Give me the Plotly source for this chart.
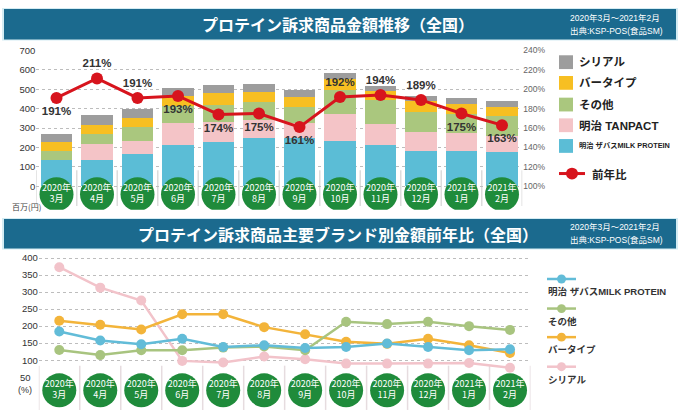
import plotly.graph_objects as go

# ---------------- data ----------------
months = ["2020年3月", "2020年4月", "2020年5月", "2020年6月", "2020年7月", "2020年8月",
          "2020年9月", "2020年10月", "2020年11月", "2020年12月", "2021年1月", "2021年2月"]

# top chart: sales (百万円), stacked
names_top = ["明治 ザバスMILK PROTEIN", "明治 TANPACT", "その他", "バータイプ", "シリアル"]
zavas = [134, 137, 167, 215, 227, 249, 247, 232, 213, 181, 181, 179]
tanpact = [3, 81, 68, 113, 104, 91, 81, 138, 110, 100, 93, 81]
sonota = [47, 54, 71, 84, 90, 93, 81, 127, 123, 101, 100, 102]
bartype = [46, 43, 48, 51, 59, 51, 49, 54, 46, 56, 52, 47]
cereal = [39, 50, 45, 43, 43, 44, 39, 34, 27, 29, 29, 29]
yoy_name = "前年比"
yoy = [191, 211, 191, 193, 174, 175, 161, 192, 194, 189, 175, 163]

# bottom chart: YoY by brand (%)
names_bot = ["明治 ザバスMILK PROTEIN", "その他", "バータイプ", "シリアル"]
b_zavas = [184, 158, 147, 163, 139, 144, 136, 139, 149, 139, 129, 132]
b_sonota = [130, 115, 129, 129, 137, 140, 129, 213, 206, 213, 200, 189]
b_bartype = [216, 204, 190, 235, 235, 197, 176, 154, 148, 163, 144, 121]
b_cereal = [373, 313, 275, 98, 93, 111, 103, 90, 90, 90, 92, 78]

left_ticks = [0, 100, 200, 300, 400, 500, 600, 700]
right_ticks = [100, 120, 140, 160, 180, 200, 220, 240]
bot_ticks = [100, 150, 200, 250, 300, 350, 400]

title_top = "プロテイン訴求商品金額推移（全国）"
title_bot = "プロテイン訴求商品主要ブランド別金額前年比（全国）"
period = "2020年3月～2021年2月"
source = "出典:KSP-POS(食品SM)"

# ---------------- styling ----------------
W, H = 680, 415
JP = "Noto Sans CJK JP"
LAT = "Liberation Sans, Noto Sans CJK JP"
C_BLUE = "#5bbdd6"
C_PINK = "#f4c4c7"
C_GREEN = "#aac77e"
C_YEL = "#f7bf22"
C_GRAY = "#9d9d9d"
C_RED = "#d7141d"
C_CIRC = "#1f8b3b"
C_HEAD = "#1b6a8e"
L_BLUE = "#62bcd8"
L_GREEN = "#a8c47f"
L_ORANGE = "#f3b43a"
L_PINK = "#f2c3ca"


def px(x):
    return x / W


def py(y):
    return 1 - y / H


circle_text = [m.replace("年", "年<br>") for m in months]

fig = go.Figure()

# top stacked bars
for name, vals, col in zip(names_top, [zavas, tanpact, sonota, bartype, cereal],
                           [C_BLUE, C_PINK, C_GREEN, C_YEL, C_GRAY]):
    fig.add_trace(go.Bar(x=months, y=vals, name=name, marker=dict(color=col, line=dict(width=0)),
                         width=0.78, xaxis="x", yaxis="y", showlegend=False))

# top month circles
fig.add_trace(go.Scatter(x=months, y=[-41] * len(months), mode="markers+text",
                         marker=dict(size=34, color=C_CIRC),
                         text=circle_text, textposition="middle center",
                         textfont=dict(color="white", size=9, family=JP),
                         xaxis="x", yaxis="y", showlegend=False, hoverinfo="skip"))

# YoY line
lab_pos = ["bottom center", "top center", "top center", "bottom center", "bottom center",
           "bottom center", "bottom center", "top center", "top center", "top center",
           "bottom center", "bottom center"]
fig.add_trace(go.Scatter(x=months, y=yoy, name=yoy_name, mode="lines+markers+text",
                         line=dict(color=C_RED, width=3),
                         marker=dict(size=12, color=C_RED),
                         text=["<b>%d%%</b>" % v for v in yoy], textposition=lab_pos,
                         textfont=dict(color="#333333", size=11.5, family=LAT),
                         xaxis="x", yaxis="y2", showlegend=False, cliponaxis=False))

# bottom lines
for name, vals, col in zip(names_bot[::-1], [b_cereal, b_bartype, b_sonota, b_zavas],
                           [L_PINK, L_ORANGE, L_GREEN, L_BLUE]):
    fig.add_trace(go.Scatter(x=months, y=vals, name=name, mode="lines+markers",
                             line=dict(color=col, width=2.5), marker=dict(size=10, color=col),
                             xaxis="x2", yaxis="y3", showlegend=False, cliponaxis=False))

fig.add_trace(go.Scatter(x=months, y=[11.5] * len(months), mode="markers+text",
                         marker=dict(size=34, color=C_CIRC),
                         text=circle_text, textposition="middle center",
                         textfont=dict(color="white", size=9, family=JP),
                         xaxis="x2", yaxis="y3", showlegend=False, hoverinfo="skip"))

shapes = []
annotations = []

# header bars
for y0, y1, t, ty in [(3, 34, title_top, 18.5), (216, 246, title_bot, 231)]:
    shapes.append(dict(type="rect", xref="paper", yref="paper", x0=px(2), x1=px(678),
                       y0=py(y1 + 1), y1=py(y0 - 1), line=dict(width=0), fillcolor="#d4ecf3", layer="below"))
    shapes.append(dict(type="rect", xref="paper", yref="paper", x0=px(4), x1=px(676),
                       y0=py(y1), y1=py(y0), line=dict(width=0), fillcolor=C_HEAD, layer="below"))
    annotations.append(dict(xref="paper", yref="paper", x=px(338), y=py(ty), text="<b>" + t + "</b>",
                            showarrow=False, font=dict(color="white", size=16, family=JP),
                            xanchor="center", yanchor="middle"))
    annotations.append(dict(xref="paper", yref="paper", x=px(568), y=py(ty - 6.5), text=period,
                            showarrow=False, font=dict(color="white", size=8.5, family=LAT),
                            xanchor="left", yanchor="middle"))
    annotations.append(dict(xref="paper", yref="paper", x=px(568), y=py(ty + 6.5), text=source,
                            showarrow=False, font=dict(color="white", size=8.5, family=LAT),
                            xanchor="left", yanchor="middle"))

# category separators
for i in range(len(months) + 1):
    shapes.append(dict(type="line", xref="x", yref="y", x0=i - 0.5, x1=i - 0.5, y0=83, y1=-101,
                       line=dict(color="#dcdcdc", width=1.5), layer="below"))
    shapes.append(dict(type="line", xref="x2", yref="y3", x0=i - 0.5, x1=i - 0.5, y0=84, y1=-46,
                       line=dict(color="#e6dcdf", width=1.5), layer="below"))

# unit labels
annotations.append(dict(xref="paper", yref="paper", x=px(10), y=py(203), text="百万(円)", showarrow=False,
                        font=dict(size=8, color="#444", family=JP), xanchor="left", yanchor="middle"))
annotations.append(dict(xref="paper", yref="paper", x=px(33), y=py(376.7), text="50", showarrow=False,
                        font=dict(size=9.5, color="#333", family=LAT), xanchor="right", yanchor="middle"))
annotations.append(dict(xref="paper", yref="paper", x=px(34), y=py(390), text="(%)", showarrow=False,
                        font=dict(size=9, color="#333", family=LAT), xanchor="right", yanchor="middle"))

# top legend (manual)
leg_top = [(names_top[4], C_GRAY, 57, 11.5), (names_top[3], C_YEL, 78, 11.5), (names_top[2], C_GREEN, 100, 11.5),
           (names_top[1], C_PINK, 121, 11.5), (names_top[0], C_BLUE, 142, 7.3)]
for name, col, yc, fs in leg_top:
    shapes.append(dict(type="rect", xref="paper", yref="paper", x0=px(559), x1=px(573),
                       y0=py(yc + 7), y1=py(yc - 7), fillcolor=col, line=dict(width=0)))
    annotations.append(dict(xref="paper", yref="paper", x=px(577), y=py(yc), text="<b>" + name + "</b>",
                            showarrow=False, font=dict(size=fs, color="#222", family=LAT),
                            xanchor="left", yanchor="middle"))
shapes.append(dict(type="line", xref="paper", yref="paper", x0=px(559), x1=px(585), y0=py(170), y1=py(170),
                   line=dict(color=C_RED, width=3)))
shapes.append(dict(type="circle", xref="paper", yref="paper", x0=px(566), x1=px(578), y0=py(176), y1=py(164),
                   fillcolor=C_RED, line=dict(width=0)))
annotations.append(dict(xref="paper", yref="paper", x=px(590), y=py(170), text="<b>" + yoy_name + "</b>",
                        showarrow=False, font=dict(size=11.5, color="#222", family=JP),
                        xanchor="left", yanchor="middle"))

# bottom legend (manual)
leg_bot = [(names_bot[0], L_BLUE, 277), (names_bot[1], L_GREEN, 307),
           (names_bot[2], L_ORANGE, 336), (names_bot[3], L_PINK, 366)]
for name, col, yl in leg_bot:
    shapes.append(dict(type="line", xref="paper", yref="paper", x0=px(547), x1=px(576), y0=py(yl), y1=py(yl),
                       line=dict(color=col, width=2.5)))
    shapes.append(dict(type="circle", xref="paper", yref="paper", x0=px(557), x1=px(566),
                       y0=py(yl + 4.5), y1=py(yl - 4.5), fillcolor=col, line=dict(width=0)))
    annotations.append(dict(xref="paper", yref="paper", x=px(546), y=py(yl + 13), text="<b>" + name + "</b>",
                            showarrow=False, font=dict(size=9.5, color="#333", family=LAT),
                            xanchor="left", yanchor="middle"))

fig.update_layout(
    width=W, height=H, margin=dict(l=0, r=0, t=0, b=0),
    paper_bgcolor="white", plot_bgcolor="white",
    barmode="stack", bargap=0.22,
    font=dict(family=JP, color="#333"),
    showlegend=False,
    xaxis=dict(domain=[px(36.25), px(522.25)], range=[-0.5, 11.5], showticklabels=False,
               showgrid=False, zeroline=False, showline=False, ticks="", anchor="y"),
    yaxis=dict(domain=[py(206.66), py(45)], range=[-120, 700], tickvals=left_ticks,
               showgrid=True, gridcolor="#bdbdbd", griddash="dot", gridwidth=1, zeroline=False,
               tickfont=dict(size=9.5, color="#333", family=LAT), ticks="", anchor="x"),
    yaxis2=dict(overlaying="y", side="right", range=[76, 240], tickvals=right_ticks,
                ticktext=["%d%%" % v for v in right_ticks],
                showgrid=False, zeroline=False, tickfont=dict(size=8.5, color="#666", family=LAT),
                ticks="", anchor="x"),
    xaxis2=dict(domain=[px(38.8), px(530.5)], range=[-0.5, 11.5], showticklabels=False,
                showgrid=False, zeroline=False, showline=False, ticks="", anchor="y3"),
    yaxis3=dict(domain=[py(410), py(250)], range=[-46.4, 416.5], tickvals=bot_ticks,
                showgrid=True, gridcolor="#bdbdbd", griddash="dot", gridwidth=1, zeroline=False,
                tickfont=dict(size=9.5, color="#333", family=LAT), ticks="", anchor="x2"),
    shapes=shapes, annotations=annotations,
)

fig.write_html("out.html", config={"displayModeBar": False},
               post_script="document.body.style.margin='0';document.body.style.overflow='hidden';")
